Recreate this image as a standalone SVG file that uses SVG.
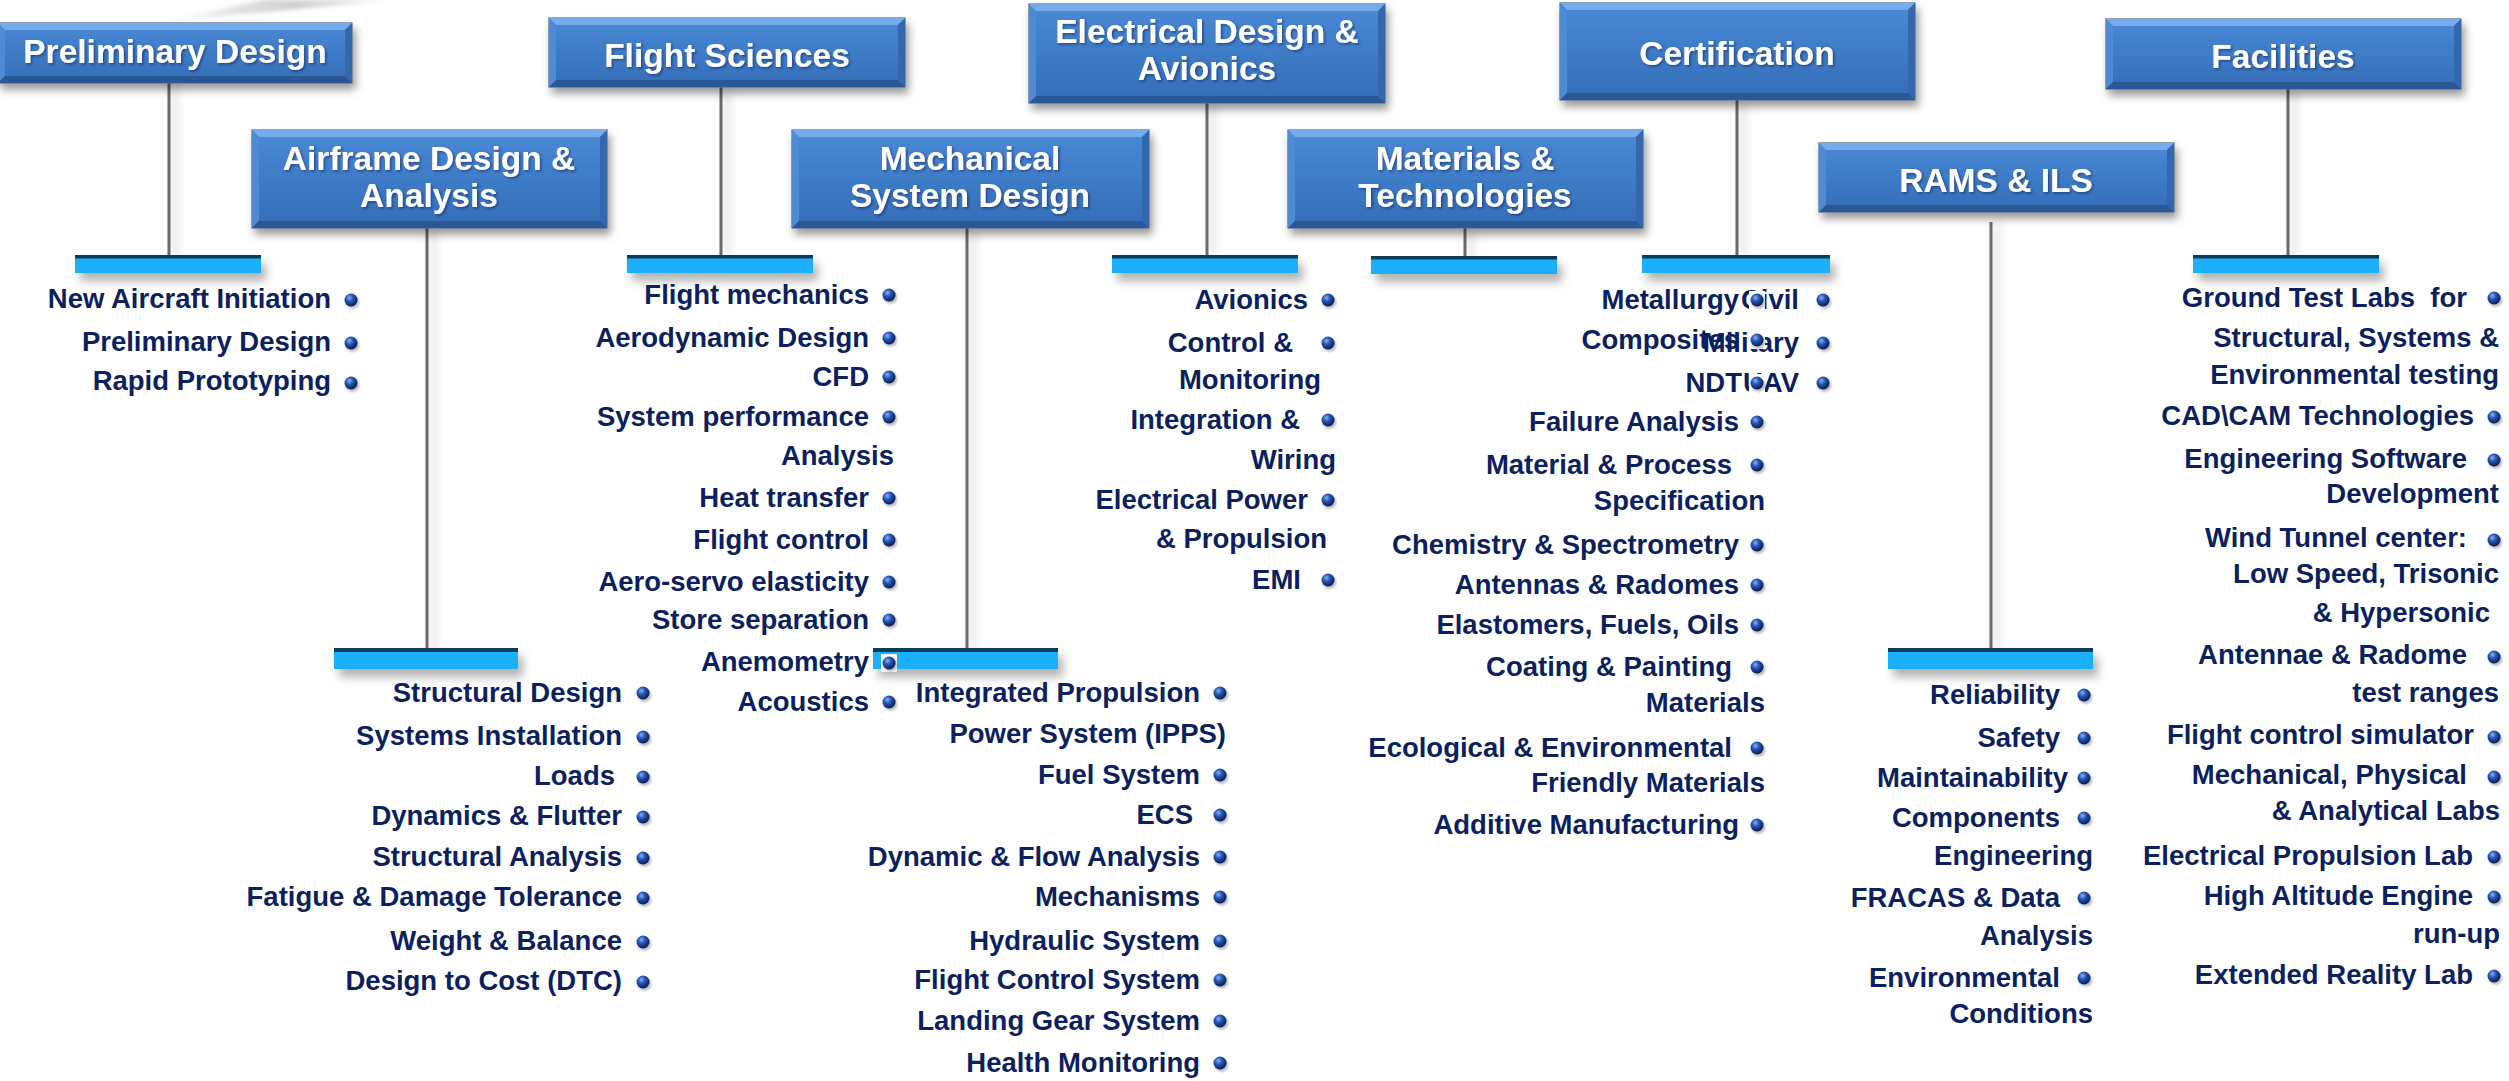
<svg xmlns="http://www.w3.org/2000/svg" xmlns:xlink="http://www.w3.org/1999/xlink" width="2509" height="1081" viewBox="0 0 2509 1081">
<defs>
<style>
.bx{fill:url(#bxg);stroke:#4d6a92;stroke-width:1.2;filter:url(#bxsh)}
.bt{fill:#77abec}
.bl{fill:#4e8ad6}
.br{fill:#3368ae}
.bb{fill:#2b5895}
.h{font-family:"Liberation Sans",Arial,sans-serif;font-weight:bold;font-size:33.5px;fill:#ffffff;text-anchor:middle;filter:url(#tsh)}
.t{font-family:"Liberation Sans",Arial,sans-serif;font-weight:bold;font-size:27.5px;fill:#0c1f5f;text-anchor:end}
.ln{fill:#6b6b6b;filter:url(#lnsh)}
.bar{fill:#1ab0fc}
.bart{fill:#0f3a56}
.barg{filter:url(#barsh)}
</style>
<linearGradient id="bxg" x1="0" y1="0" x2="0" y2="1">
<stop offset="0" stop-color="#4a89d6"/>
<stop offset="0.5" stop-color="#3e7bc7"/>
<stop offset="1" stop-color="#346db8"/>
</linearGradient>
<radialGradient id="bg" cx="0.38" cy="0.33" r="0.7">
<stop offset="0" stop-color="#8ab2f2"/>
<stop offset="0.4" stop-color="#2556b8"/>
<stop offset="1" stop-color="#071848"/>
</radialGradient>
<linearGradient id="sw" x1="0" y1="0" x2="1" y2="0">
<stop offset="0" stop-color="#f4f4f4"/>
<stop offset="0.55" stop-color="#cfcfcf"/>
<stop offset="1" stop-color="#efefef"/>
</linearGradient>
<filter id="bxsh" x="-10%" y="-20%" width="125%" height="160%">
<feDropShadow dx="3" dy="6" stdDeviation="4" flood-color="#000" flood-opacity="0.4"/>
</filter>
<filter id="tsh" x="-10%" y="-30%" width="120%" height="160%">
<feDropShadow dx="1.5" dy="1.5" stdDeviation="1" flood-color="#0a2050" flood-opacity="0.55"/>
</filter>
<filter id="lnsh" filterUnits="userSpaceOnUse" x="0" y="0" width="2509" height="1081">
<feDropShadow dx="6" dy="2" stdDeviation="5" flood-color="#000" flood-opacity="0.22"/>
</filter>
<filter id="barsh" x="-10%" y="-50%" width="130%" height="250%">
<feDropShadow dx="5" dy="8" stdDeviation="5" flood-color="#000" flood-opacity="0.3"/>
</filter>
<filter id="soft" x="-50%" y="-50%" width="200%" height="200%">
<feGaussianBlur stdDeviation="1"/>
</filter>
<filter id="swb" x="-10%" y="-50%" width="120%" height="200%">
<feGaussianBlur stdDeviation="2"/>
</filter>
<g id="bul">
<rect x="-8" y="-9" width="16" height="18" fill="#ffffff"/>
<circle cx="1.5" cy="2" r="6.8" fill="#7d828c" opacity="0.55" filter="url(#soft)"/>
<circle r="6.5" fill="url(#bg)"/>
</g>
</defs>
<rect width="2509" height="1081" fill="#ffffff"/>
<path d="M178,19 Q280,12 388,0 L262,0 Q220,10 178,19 Z" fill="url(#sw)" filter="url(#swb)"/>

<g id="connectors">
<rect class="ln" x="167.5" y="83" width="3" height="172"/>
<rect class="ln" x="719.5" y="87" width="3" height="168"/>
<rect class="ln" x="425.5" y="228" width="3" height="420"/>
<rect class="ln" x="965.5" y="228" width="3" height="420"/>
<rect class="ln" x="1205.5" y="103" width="3" height="152"/>
<rect class="ln" x="1463.5" y="228" width="3" height="28"/>
<rect class="ln" x="1735.5" y="100" width="3" height="155"/>
<rect class="ln" x="1989.5" y="222" width="3" height="426"/>
<rect class="ln" x="2286.5" y="89" width="3" height="166"/>
</g>

<g id="preliminary-design">
<rect class="bx" x="-2" y="23" width="354" height="60"/>
<polygon class="bt" points="-2,23 352,23 345,30 5,30"/>
<polygon class="bl" points="-2,23 5,30 5,76 -2,83"/>
<polygon class="br" points="352,23 352,83 345,76 345,30"/>
<polygon class="bb" points="-2,83 352,83 345,76 5,76"/>
<text class="h" x="175" y="63">Preliminary Design</text>
<g class="barg"><rect class="bar" x="75" y="255" width="186" height="18"/><rect class="bart" x="75" y="255" width="186" height="3.5"/></g>
<text class="t" x="331" y="308">New Aircraft Initiation</text><use href="#bul" x="351" y="300"/>
<text class="t" x="331" y="351">Preliminary Design</text><use href="#bul" x="351" y="343"/>
<text class="t" x="331" y="390">Rapid Prototyping</text><use href="#bul" x="351" y="383"/>
</g>

<g id="airframe-design">
<rect class="bx" x="252" y="130" width="355" height="98"/>
<polygon class="bt" points="252,130 607,130 600,137 259,137"/>
<polygon class="bl" points="252,130 259,137 259,221 252,228"/>
<polygon class="br" points="607,130 607,228 600,221 600,137"/>
<polygon class="bb" points="252,228 607,228 600,221 259,221"/>
<text class="h" x="429" y="170">Airframe Design &amp;</text>
<text class="h" x="429" y="207">Analysis</text>
<g class="barg"><rect class="bar" x="334" y="648" width="184" height="21"/><rect class="bart" x="334" y="648" width="184" height="4"/></g>
<text class="t" x="622" y="702">Structural Design</text><use href="#bul" x="643" y="693"/>
<text class="t" x="622" y="745">Systems Installation</text><use href="#bul" x="643" y="737"/>
<text class="t" x="615" y="785">Loads</text><use href="#bul" x="643" y="777"/>
<text class="t" x="622" y="825">Dynamics &amp; Flutter</text><use href="#bul" x="643" y="817"/>
<text class="t" x="622" y="866">Structural Analysis</text><use href="#bul" x="643" y="858"/>
<text class="t" x="622" y="906">Fatigue &amp; Damage Tolerance</text><use href="#bul" x="643" y="898"/>
<text class="t" x="622" y="950">Weight &amp; Balance</text><use href="#bul" x="643" y="942"/>
<text class="t" x="622" y="990">Design to Cost (DTC)</text><use href="#bul" x="643" y="982"/>
</g>

<g id="mechanical-system-design">
<rect class="bx" x="792" y="130" width="357" height="98"/>
<polygon class="bt" points="792,130 1149,130 1142,137 799,137"/>
<polygon class="bl" points="792,130 799,137 799,221 792,228"/>
<polygon class="br" points="1149,130 1149,228 1142,221 1142,137"/>
<polygon class="bb" points="792,228 1149,228 1142,221 799,221"/>
<text class="h" x="970" y="170">Mechanical</text>
<text class="h" x="970" y="207">System Design</text>
<g class="barg"><rect class="bar" x="873" y="648" width="185" height="21"/><rect class="bart" x="873" y="648" width="185" height="4"/></g>
<text class="t" x="1200" y="702">Integrated Propulsion</text><use href="#bul" x="1220" y="693"/>
<text class="t" x="1226" y="743">Power System (IPPS)</text>
<text class="t" x="1200" y="784">Fuel System</text><use href="#bul" x="1220" y="775"/>
<text class="t" x="1193" y="824">ECS</text><use href="#bul" x="1220" y="815"/>
<text class="t" x="1200" y="866">Dynamic &amp; Flow Analysis</text><use href="#bul" x="1220" y="857"/>
<text class="t" x="1200" y="906">Mechanisms</text><use href="#bul" x="1220" y="897"/>
<text class="t" x="1200" y="950">Hydraulic System</text><use href="#bul" x="1220" y="941"/>
<text class="t" x="1200" y="989">Flight Control System</text><use href="#bul" x="1220" y="980"/>
<text class="t" x="1200" y="1030">Landing Gear System</text><use href="#bul" x="1220" y="1021"/>
<text class="t" x="1200" y="1072">Health Monitoring</text><use href="#bul" x="1220" y="1063"/>
</g>

<g id="flight-sciences">
<rect class="bx" x="549" y="18" width="356" height="69"/>
<polygon class="bt" points="549,18 905,18 898,25 556,25"/>
<polygon class="bl" points="549,18 556,25 556,80 549,87"/>
<polygon class="br" points="905,18 905,87 898,80 898,25"/>
<polygon class="bb" points="549,87 905,87 898,80 556,80"/>
<text class="h" x="727" y="67">Flight Sciences</text>
<g class="barg"><rect class="bar" x="627" y="255" width="186" height="18"/><rect class="bart" x="627" y="255" width="186" height="3.5"/></g>
<text class="t" x="869" y="304">Flight mechanics</text><use href="#bul" x="889" y="295"/>
<text class="t" x="869" y="347">Aerodynamic Design</text><use href="#bul" x="889" y="338"/>
<text class="t" x="869" y="386">CFD</text><use href="#bul" x="889" y="377"/>
<text class="t" x="869" y="426">System performance</text><use href="#bul" x="889" y="417"/>
<text class="t" x="894" y="465">Analysis</text>
<text class="t" x="869" y="507">Heat transfer</text><use href="#bul" x="889" y="498"/>
<text class="t" x="869" y="549">Flight control</text><use href="#bul" x="889" y="540"/>
<text class="t" x="869" y="591">Aero-servo elasticity</text><use href="#bul" x="889" y="582"/>
<text class="t" x="869" y="629">Store separation</text><use href="#bul" x="889" y="620"/>
<text class="t" x="869" y="671">Anemometry</text><use href="#bul" x="889" y="663"/>
<text class="t" x="869" y="711">Acoustics</text><use href="#bul" x="889" y="702"/>
</g>

<g id="electrical-design-avionics">
<rect class="bx" x="1029" y="4" width="356" height="99"/>
<polygon class="bt" points="1029,4 1385,4 1378,11 1036,11"/>
<polygon class="bl" points="1029,4 1036,11 1036,96 1029,103"/>
<polygon class="br" points="1385,4 1385,103 1378,96 1378,11"/>
<polygon class="bb" points="1029,103 1385,103 1378,96 1036,96"/>
<text class="h" x="1207" y="43">Electrical Design &amp;</text>
<text class="h" x="1207" y="80">Avionics</text>
<g class="barg"><rect class="bar" x="1112" y="255" width="186" height="18"/><rect class="bart" x="1112" y="255" width="186" height="3.5"/></g>
<text class="t" x="1308" y="309">Avionics</text><use href="#bul" x="1328" y="300"/>
<text class="t" x="1293" y="352">Control &amp;</text><use href="#bul" x="1328" y="343"/>
<text class="t" x="1321" y="389">Monitoring</text>
<text class="t" x="1300" y="429">Integration &amp;</text><use href="#bul" x="1328" y="420"/>
<text class="t" x="1336" y="469">Wiring</text>
<text class="t" x="1308" y="509">Electrical Power</text><use href="#bul" x="1328" y="500"/>
<text class="t" x="1327" y="548">&amp; Propulsion</text>
<text class="t" x="1301" y="589">EMI</text><use href="#bul" x="1328" y="580"/>
</g>

<g id="certification">
<rect class="bx" x="1560" y="3" width="355" height="97"/>
<polygon class="bt" points="1560,3 1915,3 1908,10 1567,10"/>
<polygon class="bl" points="1560,3 1567,10 1567,93 1560,100"/>
<polygon class="br" points="1915,3 1915,100 1908,93 1908,10"/>
<polygon class="bb" points="1560,100 1915,100 1908,93 1567,93"/>
<text class="h" x="1737" y="65">Certification</text>
<g class="barg"><rect class="bar" x="1642" y="255" width="188" height="18"/><rect class="bart" x="1642" y="255" width="188" height="3.5"/></g>
<text class="t" x="1799" y="309">Civil</text><use href="#bul" x="1823" y="300"/>
<text class="t" x="1799" y="352">Military</text><use href="#bul" x="1823" y="343"/>
<text class="t" x="1799" y="392">UAV</text><use href="#bul" x="1823" y="383"/>
</g>

<g id="materials-technologies">
<rect class="bx" x="1288" y="130" width="355" height="98"/>
<polygon class="bt" points="1288,130 1643,130 1636,137 1295,137"/>
<polygon class="bl" points="1288,130 1295,137 1295,221 1288,228"/>
<polygon class="br" points="1643,130 1643,228 1636,221 1636,137"/>
<polygon class="bb" points="1288,228 1643,228 1636,221 1295,221"/>
<text class="h" x="1465" y="170">Materials &amp;</text>
<text class="h" x="1465" y="207">Technologies</text>
<g class="barg"><rect class="bar" x="1371" y="256" width="186" height="18"/><rect class="bart" x="1371" y="256" width="186" height="3.5"/></g>
<text class="t" x="1739" y="309">Metallurgy</text><use href="#bul" x="1757" y="300"/>
<text class="t" x="1739" y="349">Composites</text><use href="#bul" x="1757" y="340"/>
<text class="t" x="1742" y="392">NDT</text><use href="#bul" x="1757" y="383"/>
<text class="t" x="1739" y="431">Failure Analysis</text><use href="#bul" x="1757" y="422"/>
<text class="t" x="1732" y="474">Material &amp; Process</text><use href="#bul" x="1757" y="465"/>
<text class="t" x="1765" y="510">Specification</text>
<text class="t" x="1739" y="554">Chemistry &amp; Spectrometry</text><use href="#bul" x="1757" y="545"/>
<text class="t" x="1739" y="594">Antennas &amp; Radomes</text><use href="#bul" x="1757" y="585"/>
<text class="t" x="1739" y="634">Elastomers, Fuels, Oils</text><use href="#bul" x="1757" y="625"/>
<text class="t" x="1732" y="676">Coating &amp; Painting</text><use href="#bul" x="1757" y="667"/>
<text class="t" x="1765" y="712">Materials</text>
<text class="t" x="1732" y="757">Ecological &amp; Environmental</text><use href="#bul" x="1757" y="748"/>
<text class="t" x="1765" y="792">Friendly Materials</text>
<text class="t" x="1739" y="834">Additive Manufacturing</text><use href="#bul" x="1757" y="825"/>
</g>

<g id="rams-ils">
<rect class="bx" x="1819" y="143" width="355" height="69"/>
<polygon class="bt" points="1819,143 2174,143 2167,150 1826,150"/>
<polygon class="bl" points="1819,143 1826,150 1826,205 1819,212"/>
<polygon class="br" points="2174,143 2174,212 2167,205 2167,150"/>
<polygon class="bb" points="1819,212 2174,212 2167,205 1826,205"/>
<text class="h" x="1996" y="192">RAMS &amp; ILS</text>
<g class="barg"><rect class="bar" x="1888" y="648" width="205" height="21"/><rect class="bart" x="1888" y="648" width="205" height="4"/></g>
<text class="t" x="2060" y="704">Reliability</text><use href="#bul" x="2084" y="695"/>
<text class="t" x="2060" y="747">Safety</text><use href="#bul" x="2084" y="738"/>
<text class="t" x="2068" y="787">Maintainability</text><use href="#bul" x="2084" y="778"/>
<text class="t" x="2060" y="827">Components</text><use href="#bul" x="2084" y="818"/>
<text class="t" x="2093" y="865">Engineering</text>
<text class="t" x="2060" y="907">FRACAS &amp; Data</text><use href="#bul" x="2084" y="898"/>
<text class="t" x="2093" y="945">Analysis</text>
<text class="t" x="2060" y="987">Environmental</text><use href="#bul" x="2084" y="978"/>
<text class="t" x="2093" y="1023">Conditions</text>
</g>

<g id="facilities">
<rect class="bx" x="2106" y="19" width="355" height="70"/>
<polygon class="bt" points="2106,19 2461,19 2454,26 2113,26"/>
<polygon class="bl" points="2106,19 2113,26 2113,82 2106,89"/>
<polygon class="br" points="2461,19 2461,89 2454,82 2454,26"/>
<polygon class="bb" points="2106,89 2461,89 2454,82 2113,82"/>
<text class="h" x="2283" y="68">Facilities</text>
<g class="barg"><rect class="bar" x="2193" y="255" width="186" height="18"/><rect class="bart" x="2193" y="255" width="186" height="3.5"/></g>
<text class="t" x="2467" y="307" xml:space="preserve">Ground Test Labs  for</text><use href="#bul" x="2494" y="298"/>
<text class="t" x="2499" y="347">Structural, Systems &amp;</text>
<text class="t" x="2499" y="384">Environmental testing</text>
<text class="t" x="2474" y="425">CAD\CAM Technologies</text><use href="#bul" x="2494" y="417"/>
<text class="t" x="2467" y="468">Engineering Software</text><use href="#bul" x="2494" y="460"/>
<text class="t" x="2499" y="503">Development</text>
<text class="t" x="2467" y="547">Wind Tunnel center:</text><use href="#bul" x="2494" y="540"/>
<text class="t" x="2499" y="583">Low Speed, Trisonic</text>
<text class="t" x="2490" y="622">&amp; Hypersonic</text>
<text class="t" x="2467" y="664">Antennae &amp; Radome</text><use href="#bul" x="2494" y="657"/>
<text class="t" x="2499" y="702">test ranges</text>
<text class="t" x="2474" y="744">Flight control simulator</text><use href="#bul" x="2494" y="737"/>
<text class="t" x="2467" y="784">Mechanical, Physical</text><use href="#bul" x="2494" y="777"/>
<text class="t" x="2500" y="820">&amp; Analytical Labs</text>
<text class="t" x="2473" y="865">Electrical Propulsion Lab</text><use href="#bul" x="2494" y="857"/>
<text class="t" x="2473" y="905">High Altitude Engine</text><use href="#bul" x="2494" y="897"/>
<text class="t" x="2500" y="943">run-up</text>
<text class="t" x="2473" y="984">Extended Reality Lab</text><use href="#bul" x="2494" y="976"/>
</g>
</svg>
